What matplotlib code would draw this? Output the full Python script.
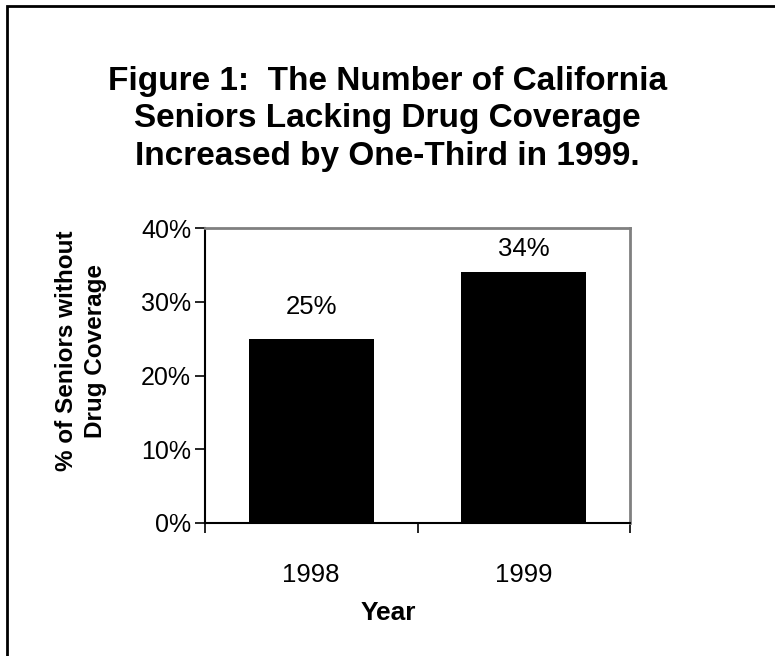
import matplotlib
matplotlib.use("Agg")
import matplotlib.pyplot as plt
from matplotlib.patches import Rectangle

plt.rcParams['font.family'] = ['Liberation Sans', 'DejaVu Sans']

# Data
years = ['1998', '1999']
pct_without = [25, 34]
label_offsets = [20, 11]   # px gap above bar for value labels
y_ticks = [0, 10, 20, 30, 40]

title = ("Figure 1:  The Number of California\n"
         "Seniors Lacking Drug Coverage\n"
         "Increased by One-Third in 1999.")

fig = plt.figure(figsize=(7.75, 6.56), dpi=100)

# outer frame (right/bottom edges fall outside the picture)
fig.patches.append(Rectangle((7 / 775, -0.05), 1.05, 1 - 6 / 656 + 0.05,
                             transform=fig.transFigure, fill=False,
                             edgecolor='black', linewidth=2))

fig.text(0.5, 1 - 119 / 656, title, ha='center', va='center',
         fontsize=24, fontweight='bold', linespacing=1.27)

ax = fig.add_axes([205 / 775, 1 - 523 / 656, (630 - 205) / 775, (523 - 228) / 656])
x = range(len(years))
ax.bar(x, pct_without, width=0.59, color='black')
ax.set_xlim(-0.5, 1.5)
ax.set_ylim(0, 40)

for xi, v, off in zip(x, pct_without, label_offsets):
    ax.annotate(f'{v}%', (xi, v), xytext=(0, off * 0.72), textcoords='offset points',
                ha='center', va='bottom', fontsize=18.5)

ax.set_yticks(y_ticks)
ax.set_yticklabels([f'{t}%' for t in y_ticks], fontsize=18)
ax.set_xticks([-0.5, 0.5, 1.5])
ax.set_xticklabels([])
ax.set_xticks(list(x), minor=True)
ax.set_xticklabels(years, minor=True, fontsize=18.5)
ax.tick_params(axis='x', which='minor', length=0, pad=29)
ax.tick_params(axis='x', which='major', length=7, direction='out', width=1.2)
ax.tick_params(axis='y', length=7, direction='out', width=1.2, pad=3)

ax.spines['left'].set_linewidth(1.5)
ax.spines['bottom'].set_linewidth(1.5)
ax.spines['top'].set_color('#808080')
ax.spines['right'].set_color('#808080')
ax.spines['top'].set_linewidth(2)
ax.spines['right'].set_linewidth(2)

fig.text(388 / 775, 1 - 613 / 656, 'Year', ha='center', va='center',
         fontsize=19, fontweight='bold')
fig.text(81 / 775, 1 - 351 / 656, '% of Seniors without\nDrug Coverage',
         ha='center', va='center', rotation=90, fontsize=17.5,
         fontweight='bold', linespacing=1.35)

fig.savefig('out.png', dpi=100)
